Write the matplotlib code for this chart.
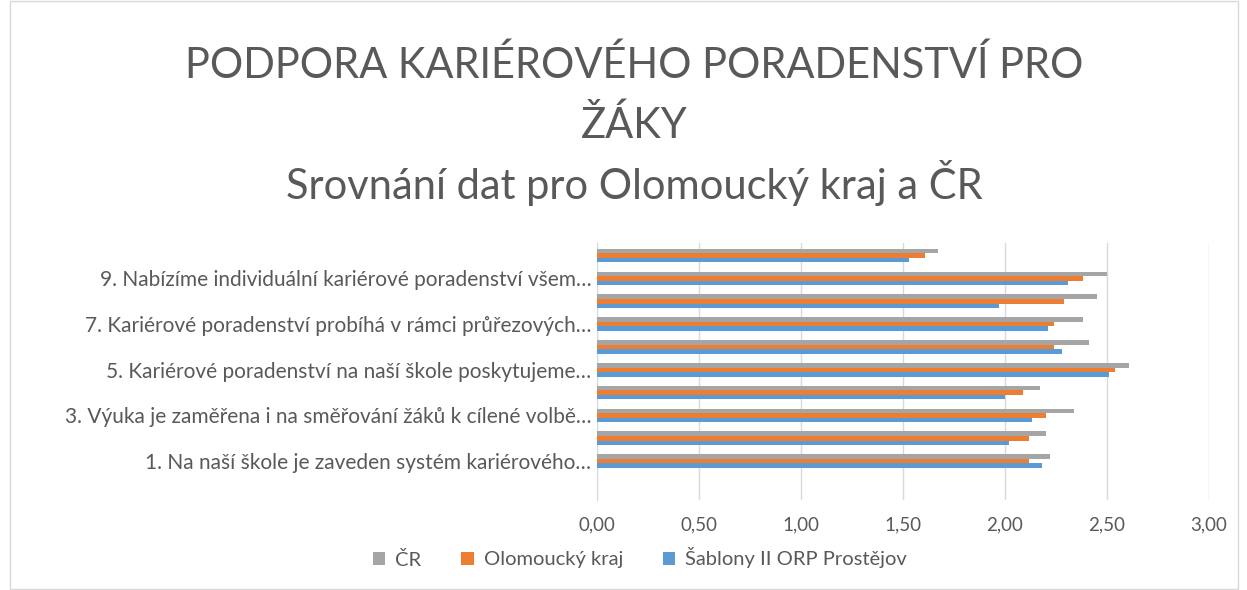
import matplotlib
matplotlib.use("Agg")
import matplotlib.pyplot as plt
from matplotlib.patches import Rectangle
import numpy as np

plt.rcParams['font.family'] = ['Lato', 'DejaVu Sans']

categories = [
    "1. Na naší škole je zaveden systém kariérového…",
    "",
    "3. Výuka je zaměřena i na směřování žáků k cílené volbě…",
    "",
    "5. Kariérové poradenství na naší škole poskytujeme…",
    "",
    "7. Kariérové poradenství probíhá v rámci průřezových…",
    "",
    "9. Nabízíme individuální kariérové poradenství všem…",
    "",
]
cr = [2.22, 2.20, 2.34, 2.17, 2.61, 2.41, 2.38, 2.45, 2.50, 1.67]
olomouc = [2.12, 2.12, 2.20, 2.09, 2.54, 2.24, 2.24, 2.29, 2.38, 1.61]
sablony = [2.18, 2.02, 2.13, 2.00, 2.51, 2.28, 2.21, 1.97, 2.31, 1.53]
xticks = [0.0, 0.5, 1.0, 1.5, 2.0, 2.5, 3.0]
series_names = ["ČR", "Olomoucký kraj", "Šablony II ORP Prostějov"]

c_gray = "#a5a5a5"
c_orange = "#ed7d31"
c_blue = "#5b9bd5"
txt = "#595959"

W, H = 1247, 590
fig = plt.figure(figsize=(W / 100, H / 100), dpi=100)
fig.patches.append(Rectangle((10 / W, 0.002), (1238 - 10) / W, 0.996, transform=fig.transFigure,
                             fill=False, edgecolor="#d9d9d9", linewidth=1))

ax = fig.add_axes([597 / W, 90 / H, (1209 - 597) / W, (347 - 90) / H])
y = np.arange(len(categories))
h = 0.2
ax.barh(y + h, cr, height=h, color=c_gray, label=series_names[0], zorder=3)
ax.barh(y, olomouc, height=h, color=c_orange, label=series_names[1], zorder=3)
ax.barh(y - h, sablony, height=h, color=c_blue, label=series_names[2], zorder=3)

ax.set_xlim(0, 3.0)
ax.set_ylim(-1.7, 9.55)
ax.set_xticks(xticks)
ax.set_xticklabels([f"{v:.2f}".replace(".", ",") for v in xticks])
ax.set_yticks(y)
ax.set_yticklabels(categories)
ax.tick_params(axis="both", length=0, labelcolor=txt)
ax.tick_params(axis="x", pad=12, labelsize=13.5)
ax.tick_params(axis="y", pad=4, labelsize=15)
ax.grid(axis="x", color="#d9d9d9", linewidth=1, zorder=0)
for s in ["top", "right", "bottom"]:
    ax.spines[s].set_visible(False)
ax.spines["left"].set_color("#d9d9d9")

for ty, line in [(65, "PODPORA KARIÉROVÉHO PORADENSTVÍ PRO"), (125, "ŽÁKY"),
                 (183, "Srovnání dat pro Olomoucký kraj a ČR")]:
    fig.text(634 / W, 1 - ty / H, line, ha="center", va="center",
             fontsize=30, color=txt, fontweight="normal")

handles, labels = ax.get_legend_handles_labels()
leg = fig.legend(handles, labels, loc="center", bbox_to_anchor=(640 / W, 1 - 558 / H), ncol=3,
                 frameon=False, fontsize=14.5, handlelength=0.6, handleheight=0.6,
                 columnspacing=2.0, handletextpad=0.5)
for t in leg.get_texts():
    t.set_color(txt)

fig.savefig("out.png", dpi=100)
